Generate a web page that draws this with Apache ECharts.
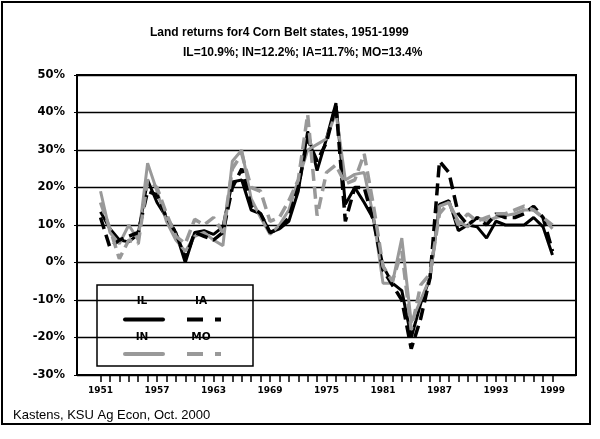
<!DOCTYPE html>
<html>
<head>
<meta charset="utf-8">
<script src="https://cdn.jsdelivr.net/npm/echarts@6/dist/echarts.min.js"></script>
<style>
  html, body { margin: 0; padding: 0; background: #fff; }
  #chart { width: 600px; height: 439px; }
</style>
</head>
<body>
<div id="chart"></div>
<script>
// years shown on the axis, plus blank padding slots at both ends
const years = ['1951','1952','1953','1954','1955','1956','1957','1958','1959','1960',
  '1961','1962','1963','1964','1965','1966','1967','1968','1969','1970',
  '1971','1972','1973','1974','1975','1976','1977','1978','1979','1980',
  '1981','1982','1983','1984','1985','1986','1987','1988','1989','1990',
  '1991','1992','1993','1994','1995','1996','1997','1998','1999'];
const padBefore = ['1949', '1950'];
const padAfter = ['2000', '2001'];

// land returns, percent
const il = [13.5, 9, 6, 5.5, 7.5, 22, 16, 12, 8, 0,
  8, 8.5, 7.5, 9.5, 21.5, 22, 14, 13, 8, 9,
  11, 19, 35, 24.5, 33, 42.5, 15.5, 20, 16, 11.5,
  -1, -5.5, -7.5, -20, -11, -4, 15.5, 16.5, 8.5, 10,
  9.5, 6.5, 11, 10, 10, 10, 12, 9.5, 2];
const inn = [19, 8, 5, 10, 6, 26.5, 19, 11, 6, 3,
  7, 8, 6, 4.5, 27, 30, 17, 12, 7.5, 10,
  14, 22, 30, 31.5, 33, 40, 22, 23.5, 24, 12,
  -5.5, -5.5, 6.5, -16, -10, -4, 15, 16, 11, 9.5,
  12, 11, 12, 12.5, 13, 14, 14, 12, 9];
const ia = [12, 4, 6, 7, 8, 19, 18, 12, 8, 1,
  8, 7, 6, 8, 20, 25, 15, 13, 8, 9,
  12, 20, 33, 27, 32, 42, 11, 20, 20, 11,
  -2, -6, -10, -23, -15, -4, 27, 24, 13, 10,
  12, 10, 13, 12, 12, 13, 15, 12, 3];
const mo = [16, 9, 1, 6, 5, 22, 20, 13, 7, 5,
  11.5, 10, 12, 8, 25, 29, 20, 19, 11, 12,
  16.5, 22, 39.5, 12.5, 24, 26, 21, 22, 29, 15,
  -1, -5, 3, -18, -6, -3, 13, 16, 10, 13,
  11, 12, 13, 13, 14, 15, 14, 12, 10];

const yTicks = { min: -30, max: 50, step: 10 };
const labelEvery = 6;

const GREY = '#999999';
const first = padBefore.length;
const last = first + years.length - 1;

function padded(arr) {
  return padBefore.map(() => null).concat(arr, padAfter.map(() => null));
}

const chart = echarts.init(document.getElementById('chart'));

function legendText(txt, x, y) {
  return {
    type: 'text', x: x, y: y,
    style: {
      text: txt, align: 'center', verticalAlign: 'middle',
      fontFamily: 'DejaVu Sans', fontSize: 10.5, fontWeight: 'bold', fill: '#000'
    }
  };
}

const option = {
  animation: false,
  backgroundColor: '#fff',
  title: [
    {
      text: 'Land returns for4 Corn Belt states, 1951-1999',
      left: 145, top: 22,
      textStyle: { fontFamily: 'Liberation Sans', fontSize: 12, fontWeight: 'bold', color: '#000' }
    },
    {
      text: 'IL=10.9%; IN=12.2%; IA=11.7%; MO=13.4%',
      left: 178, top: 42,
      textStyle: { fontFamily: 'Liberation Sans', fontSize: 12, fontWeight: 'bold', color: '#000' }
    },
    {
      text: 'Kastens, KSU Ag Econ, Oct. 2000',
      left: 8, top: 404,
      textStyle: { fontFamily: 'Liberation Sans', fontSize: 13, fontWeight: 'normal', color: '#000' }
    }
  ],
  grid: {
    left: 77, right: 24, top: 75, bottom: 64,
    show: true, borderColor: '#000', borderWidth: 2
  },
  xAxis: {
    type: 'category',
    data: padBefore.concat(years, padAfter),
    boundaryGap: true,
    axisLine: { onZero: false, lineStyle: { color: '#000', width: 2 } },
    axisTick: {
      show: true,
      alignWithLabel: true,
      length: 7,
      lineStyle: { color: '#000', width: 1.5 },
      interval: (i) => i >= first && i <= last
    },
    axisLabel: {
      interval: (i) => i >= first && i <= last && (i - first) % labelEvery === 0,
      margin: 11,
      fontFamily: 'DejaVu Sans', fontSize: 9, fontWeight: 'bold', color: '#000'
    },
    splitLine: { show: false }
  },
  yAxis: {
    type: 'value',
    min: yTicks.min, max: yTicks.max, interval: yTicks.step,
    axisLine: { show: true, lineStyle: { color: '#000', width: 2 } },
    axisTick: { show: true, length: 3, lineStyle: { color: '#000', width: 1 } },
    axisLabel: {
      formatter: '{value}%',
      margin: 12,
      fontFamily: 'DejaVu Sans', fontSize: 11.5, fontWeight: 'bold', color: '#000'
    },
    splitLine: { lineStyle: { color: '#000', width: 1.3 } }
  },
  series: [
    {
      name: 'IL', type: 'line', data: padded(il), symbol: 'none',
      lineStyle: { color: '#000', width: 3 }, z: 2
    },
    {
      name: 'IN', type: 'line', data: padded(inn), symbol: 'none',
      lineStyle: { color: GREY, width: 3 }, z: 3
    },
    {
      name: 'IA', type: 'line', data: padded(ia), symbol: 'none',
      lineStyle: { color: '#000', width: 3.5, type: [12, 6] }, z: 4
    },
    {
      name: 'MO', type: 'line', data: padded(mo), symbol: 'none',
      lineStyle: { color: GREY, width: 3.5, type: [12, 6] }, z: 5
    }
  ],
  graphic: [
    {
      type: 'rect', silent: true, z: 0,
      shape: { x: 2, y: 2, width: 588, height: 422 },
      style: { fill: null, stroke: '#000', lineWidth: 2 }
    },
    {
      type: 'group', z: 100,
      children: [
        { type: 'rect', shape: { x: 97, y: 285, width: 156, height: 81 },
          style: { fill: '#fff', stroke: '#000', lineWidth: 1.5 } },
        legendText('IL', 142, 301),
        legendText('IA', 201, 301),
        legendText('IN', 142, 337),
        legendText('MO', 201, 337),
        { type: 'line', shape: { x1: 125, y1: 319.5, x2: 163, y2: 319.5 },
          style: { stroke: '#000', lineWidth: 4, lineCap: 'round' } },
        { type: 'line', shape: { x1: 187, y1: 319.5, x2: 221, y2: 319.5 },
          style: { stroke: '#000', lineWidth: 4, lineDash: [16, 12] } },
        { type: 'line', shape: { x1: 125, y1: 354, x2: 163, y2: 354 },
          style: { stroke: GREY, lineWidth: 4, lineCap: 'round' } },
        { type: 'line', shape: { x1: 187, y1: 354, x2: 221, y2: 354 },
          style: { stroke: GREY, lineWidth: 4, lineDash: [16, 12] } }
      ]
    }
  ]
};

chart.setOption(option);
</script>
</body>
</html>
